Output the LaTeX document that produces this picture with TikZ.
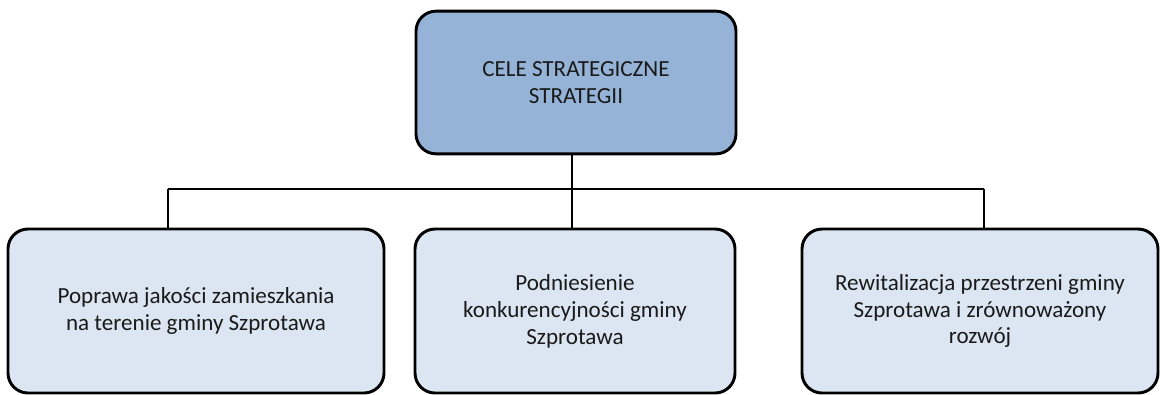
\documentclass[tikz,border=0pt]{standalone}
\usepackage{fontspec}
\setmainfont{Carlito}
\begin{document}
\begin{tikzpicture}[x=0.75pt,y=-0.75pt,line join=round,font=\fontsize{17.3}{20.2}\selectfont]
            \definecolor{topblue}{HTML}{95B3D7}
            \definecolor{paleblue}{HTML}{DCE6F2}
            \definecolor{textgray}{HTML}{1A1A1A}
            \tikzset{
                cel/.style={draw=black,line width=2.2pt,rounded corners=15pt,align=center,
                    inner sep=0pt,text=textgray,minimum height=123pt},
                glowny/.style={cel,fill=topblue,minimum width=240pt,minimum height=107pt},
                szczeg/.style={cel,fill=paleblue},
                linia/.style={draw=black,line width=1.3pt}
            }
            \useasboundingbox (0,0) rectangle (1160,394);
            
            \node[glowny] (cele) at (576,82.5) {CELE STRATEGICZNE\\STRATEGII};
            
            \node[szczeg,minimum width=282pt] (cel1) at (196,311) {Poprawa jakości zamieszkania\\na terenie gminy Szprotawa};
            \node[szczeg,minimum width=240pt] (cel2) at (575,311) {Podniesienie\\konkurencyjności gminy\\Szprotawa};
            \node[szczeg,minimum width=267pt] (cel3) at (980,311) {Rewitalizacja przestrzeni gminy\\Szprotawa i zrównoważony\\rozwój};
            %===============================
            \coordinate (szynaL) at (168,189);
            \coordinate (szynaR) at (984,189);
            \draw[linia] (szynaL)--(szynaR);
            \draw[linia] ([xshift=-3pt]cele.south)--([xshift=-3pt]cele.south |- szynaL);
            \draw[linia] (szynaL)--(szynaL |- cel1.north);
            \draw[linia] ([xshift=-2pt]cel2.north |- szynaL)--([xshift=-2pt]cel2.north);
            \draw[linia] (szynaR)--(szynaR |- cel3.north);
\end{tikzpicture}
\end{document}
